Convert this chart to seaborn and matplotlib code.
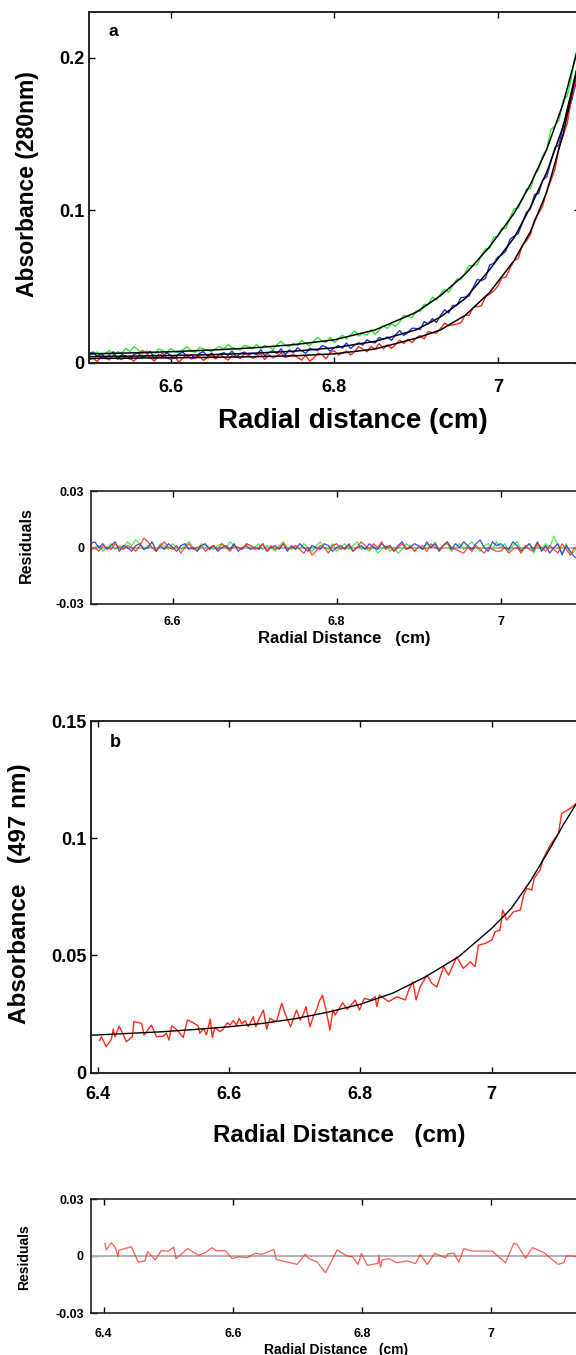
import matplotlib
matplotlib.use("Agg")
import matplotlib.pyplot as plt
import seaborn as sns
import numpy as np
from matplotlib.ticker import FuncFormatter

# ---------------- panel a : absorbance at 280 nm, three runs ----------------
radius_a = [
    6.500, 6.505, 6.510, 6.515, 6.520, 6.525, 6.530, 6.535, 6.540, 6.545,
    6.550, 6.555, 6.560, 6.565, 6.570, 6.575, 6.580, 6.585, 6.590, 6.595,
    6.600, 6.605, 6.610, 6.615, 6.620, 6.625, 6.630, 6.635, 6.640, 6.645,
    6.650, 6.655, 6.660, 6.665, 6.670, 6.675, 6.680, 6.685, 6.690, 6.695,
    6.700, 6.705, 6.710, 6.715, 6.720, 6.725, 6.730, 6.735, 6.740, 6.745,
    6.750, 6.755, 6.760, 6.765, 6.770, 6.775, 6.780, 6.785, 6.790, 6.795,
    6.800, 6.805, 6.810, 6.815, 6.820, 6.825, 6.830, 6.835, 6.840, 6.845,
    6.850, 6.855, 6.860, 6.865, 6.870, 6.875, 6.880, 6.885, 6.890, 6.895,
    6.900, 6.905, 6.910, 6.915, 6.920, 6.925, 6.930, 6.935, 6.940, 6.945,
    6.950, 6.955, 6.960, 6.965, 6.970, 6.975, 6.980, 6.985, 6.990, 6.995,
    7.000, 7.005, 7.010, 7.015, 7.020, 7.025, 7.030, 7.035, 7.040, 7.045,
    7.050, 7.055, 7.060, 7.065, 7.070, 7.075, 7.080, 7.085, 7.090, 7.095,
    7.100]

abs_green = [
    .0048, .0059, .0070, .0040, .0061, .0081, .0052, .0072, .0063, .0093,
    .0074, .0105, .0086, .0056, .0077, .0068, .0049, .0090, .0080, .0061,
    .0092, .0073, .0064, .0085, .0106, .0077, .0068, .0099, .0091, .0082,
    .0073, .0094, .0105, .0087, .0118, .0100, .0091, .0083, .0114, .0106,
    .0097, .0119, .0091, .0113, .0105, .0087, .0119, .0141, .0113, .0105,
    .0128, .0111, .0144, .0127, .0110, .0143, .0166, .0140, .0133, .0167,
    .0130, .0155, .0180, .0156, .0182, .0208, .0175, .0192, .0180, .0217,
    .0185, .0214, .0244, .0225, .0255, .0237, .0268, .0310, .0303, .0296,
    .0340, .0336, .0383, .0381, .0430, .0410, .0450, .0481, .0462, .0505,
    .0549, .0544, .0590, .0637, .0635, .0644, .0704, .0746, .0750, .0823,
    .0827, .0883, .0880, .0949, .1010, .1014, .1071, .1139, .1140, .1234,
    .1270, .1358, .1400, .1530, .1553, .1590, .1720, .1750, .1870, .2020,
    .2080]

abs_blue = [
    .0060, .0070, .0041, .0061, .0031, .0052, .0072, .0022, .0053, .0043,
    .0023, .0054, .0064, .0035, .0045, .0075, .0026, .0056, .0037, .0067,
    .0047, .0028, .0058, .0069, .0040, .0050, .0031, .0061, .0072, .0042,
    .0063, .0034, .0055, .0066, .0047, .0077, .0038, .0059, .0070, .0051,
    .0062, .0053, .0084, .0046, .0067, .0078, .0060, .0091, .0052, .0084,
    .0065, .0097, .0079, .0062, .0094, .0086, .0079, .0111, .0103, .0076,
    .0098, .0112, .0095, .0129, .0093, .0117, .0131, .0116, .0150, .0135,
    .0130, .0166, .0153, .0169, .0146, .0184, .0211, .0179, .0197, .0226,
    .0225, .0217, .0270, .0254, .0289, .0264, .0310, .0347, .0326, .0375,
    .0376, .0427, .0430, .0437, .0495, .0546, .0538, .0553, .0640, .0651,
    .0693, .0707, .0733, .0810, .0830, .0846, .0914, .0986, .1010, .1103,
    .1109, .1198, .1220, .1320, .1410, .1430, .1560, .1630, .1710, .1820,
    .1940]

abs_red = [
    .0018, .0028, .0008, .0039, .0029, .0019, .0049, .0029, .0020, .0040,
    .0030, .0010, .0040, .0081, .0061, .0031, .0011, .0041, .0062, .0032,
    .0022, .0042, .0003, .0033, .0053, .0024, .0034, .0044, .0015, .0035,
    .0045, .0025, .0056, .0036, .0017, .0047, .0037, .0028, .0058, .0049,
    .0029, .0040, .0060, .0021, .0051, .0032, .0043, .0063, .0034, .0044,
    .0055, .0035, .0017, .0048, .0010, .0031, .0062, .0054, .0025, .0067,
    .0078, .0051, .0064, .0077, .0050, .0073, .0106, .0089, .0072, .0106,
    .0090, .0125, .0091, .0117, .0093, .0120, .0147, .0125, .0153, .0131,
    .0160, .0178, .0156, .0205, .0195, .0195, .0225, .0259, .0243, .0248,
    .0254, .0262, .0310, .0311, .0364, .0368, .0373, .0431, .0450, .0470,
    .0502, .0556, .0562, .0620, .0670, .0683, .0769, .0798, .0840, .0939,
    .0981, .1028, .1130, .1195, .1267, .1415, .1490, .1570, .1730, .1840,
    .1970]

# residuals of panel a, in units of 0.001 absorbance
resid_green = [
    -1, 0, 1, -2, 0, 2, -1, 1, 0, 3,
    1, 4, 2, -1, 1, 0, -2, 2, 1, -1,
    2, 0, -1, 1, 3, 0, -1, 2, 1, 0,
    -1, 1, 2, 0, 3, 1, 0, -1, 2, 1,
    0, 2, -1, 1, 0, -2, 1, 3, 0, -1,
    1, -1, 2, 0, -2, 1, 3, 0, -1, 2,
    -2, 0, 2, -1, 1, 3, -1, 0, -2, 1,
    -3, -1, 1, -2, 0, -3, -1, 2, 0, -2,
    1, -1, 2, 0, 3, -1, 1, 2, -2, 0,
    2, -1, 1, 3, 0, -2, 1, 2, -1, 3,
    0, 2, -2, 1, 3, -1, 0, 2, -3, 1,
    -1, 2, 0, 6, 1, -3, 2, -4, -2, 3,
    -2]

resid_blue = [
    2, 3, 0, 2, -1, 1, 3, -2, 1, 0,
    -2, 1, 2, -1, 0, 3, -2, 1, -1, 2,
    0, -2, 1, 2, -1, 0, -2, 1, 2, -1,
    1, -2, 0, 1, -1, 2, -2, 0, 1, -1,
    0, -1, 2, -2, 0, 1, -1, 2, -2, 1,
    -1, 2, 0, -2, 1, 0, -1, 2, 1, -2,
    0, 1, -1, 2, -2, 0, 1, -1, 2, 0,
    -1, 2, 0, 1, -2, 1, 3, -1, 0, 2,
    1, -1, 3, 0, 2, -2, 1, 3, -1, 2,
    0, 3, 1, -1, 2, 4, 0, -2, 3, 1,
    2, 0, -1, 3, 1, -2, 0, 2, -1, 3,
    -2, 1, -3, 0, 2, -4, 1, -2, -5, -6,
    -6]

resid_red = [
    -1, 0, -2, 1, 0, -1, 2, 0, -1, 1,
    0, -2, 1, 5, 3, 0, -2, 1, 3, 0,
    -1, 1, -3, 0, 2, -1, 0, 1, -2, 0,
    1, -1, 2, 0, -2, 1, 0, -1, 2, 1,
    -1, 0, 2, -2, 1, -1, 0, 2, -1, 0,
    1, -1, -3, 0, -4, -2, 1, 0, -3, 1,
    2, -1, 0, 1, -2, 0, 3, 1, -1, 2,
    0, 3, -1, 1, -2, 0, 2, -1, 1, -2,
    0, 1, -2, 2, 0, -1, 1, 3, 0, -1,
    -2, -3, 0, -2, 1, -1, -3, 0, -1, -2,
    -2, 0, -3, -1, 0, -3, 1, -1, -2, 2,
    0, -2, 1, -1, -3, 2, -1, -4, 0, -2,
    -3]

# fitted curves of panel a
fit_radius_a = [6.50, 6.55, 6.60, 6.65, 6.70, 6.75, 6.80, 6.85, 6.90,
                6.93, 6.96, 6.99, 7.02, 7.04, 7.06, 7.08, 7.10]
fit_green = [.0058, .0064, .0072, .0083, .0097, .0118, .0150, .0215, .0330,
             .0440, .0580, .0760, .0980, .1170, .1400, .1700, .2100]
fit_blue = [.0040, .0043, .0047, .0053, .0062, .0075, .0098, .0140, .0215,
            .0300, .0420, .0610, .0820, .1020, .1250, .1550, .2000]
fit_red = [.0028, .0030, .0032, .0035, .0039, .0045, .0058, .0090, .0160,
           .0215, .0310, .0460, .0670, .0860, .1120, .1500, .2000]

# ---------------- panel b : absorbance at 497 nm ----------------
radius_b = [
    6.4015, 6.405, 6.412, 6.420, 6.423, 6.4255, 6.432, 6.443, 6.452, 6.4545,
    6.466, 6.470, 6.481, 6.489, 6.499, 6.504, 6.508, 6.512, 6.5205, 6.5297,
    6.536, 6.545, 6.5525, 6.555, 6.561, 6.565, 6.571, 6.574, 6.578, 6.5855,
    6.5905, 6.597, 6.601, 6.606, 6.611, 6.615, 6.619, 6.624, 6.629, 6.6365,
    6.6405, 6.644, 6.652, 6.657, 6.662, 6.668, 6.672, 6.680, 6.685, 6.688,
    6.6935, 6.6975, 6.7025, 6.708, 6.7125, 6.717, 6.723, 6.728, 6.733, 6.737,
    6.742, 6.747, 6.7535,
    6.758, 6.7615, 6.765, 6.773, 6.780, 6.792, 6.7985, 6.806, 6.815, 6.8225,
    6.825, 6.829, 6.843, 6.856, 6.8685, 6.8735, 6.880, 6.885, 6.891, 6.9015,
    6.909, 6.9165, 6.927, 6.9345, 6.947, 6.957, 6.9675, 6.975, 6.980, 6.990,
    7.0005, 7.0055, 7.013, 7.017, 7.023, 7.0335, 7.044, 7.049, 7.054, 7.0615,
    7.065, 7.074, 7.079, 7.0895, 7.102, 7.107, 7.120, 7.129]

abs_b = [
    .0136, .0153, .0111, .0142, .0186, .0153, .0199, .0132, .0153, .0218,
    .0211, .0161, .0203, .0153, .0156, .0168, .0139, .0200, .0182, .0150,
    .0225, .0213, .0199, .0168, .0189, .0161, .0229, .0150, .0193, .0175,
    .0185, .0213, .0203, .0222, .0203, .0232, .0208, .0222, .0196, .0239,
    .0196, .0222, .0267, .0185, .0232, .0222, .0218, .0296, .0253, .0232,
    .0196, .0228, .0267, .0225, .0246, .0282, .0196, .0239, .0267, .0303,
    .0331, .0275, .0182,
    .0267, .0246, .0263, .0298, .0270, .0310, .0267, .0317, .0310, .0324,
    .0282, .0331, .0303, .0324, .0310, .0352, .0388, .0310, .0366, .0416,
    .0381, .0366, .0452, .0416, .0494, .0445, .0473, .0452, .0544, .0551,
    .0566, .0601, .0608, .0694, .0651, .0686, .0694, .0758, .0786, .0779,
    .0829, .0864, .0914, .0971, .1020, .1106, .1127, .1148]

fit_radius_b = [6.39, 6.45, 6.50, 6.55, 6.60, 6.65, 6.70, 6.75, 6.80, 6.85,
                6.90, 6.95, 7.00, 7.03, 7.06, 7.09, 7.11, 7.13, 7.14]
fit_b = [.0160, .0168, .0175, .0185, .0196, .0210, .0230, .0258, .0292, .0340,
         .0410, .0495, .0615, .0700, .0820, .0960, .1060, .1150, .1200]

resid_radius_b = [
    6.402, 6.404, 6.412, 6.418, 6.4225, 6.4235, 6.443, 6.4535, 6.464, 6.468,
    6.480, 6.489, 6.500, 6.5085, 6.512, 6.530, 6.547, 6.5575, 6.568, 6.574,
    6.5885, 6.599, 6.609, 6.622, 6.635, 6.645, 6.6635, 6.667, 6.6995, 6.712,
    6.7175, 6.7305, 6.7435, 6.7615, 6.777, 6.785, 6.794, 6.799, 6.808, 6.825,
    6.826, 6.8285, 6.831, 6.8415, 6.854, 6.870, 6.8825, 6.890, 6.901, 6.9125,
    6.929, 6.933, 6.942, 6.950, 6.9575, 6.9705, 7.0015, 7.022, 7.035, 7.040,
    7.053, 7.0635, 7.0815, 7.094, 7.1035, 7.1125, 7.116, 7.125, 7.131]
# residuals of panel b, in units of 0.001 absorbance
resid_b = [
    6.7, 3.2, 7.0, 4.4, -0.4, 3.0, 4.9, -3.2, -2.6, 2.3,
    -2.1, 2.8, 2.5, 4.7, -1.4, 3.9, 0.4, 1.8, 4.4, 2.8,
    2.8, -1.4, -0.4, -0.9, 1.4, 0.9, 3.5, -1.8, -4.4, 0.9,
    -1.4, -3.2, -8.8, 3.2, 0.0, -0.4, -4.4, 1.4, -4.9, -3.9,
    0.4, -6.1, -2.1, -1.4, -3.5, -2.6, -4.0, 0.7, -4.4, 1.4,
    -0.9, 1.2, 1.4, -3.2, 3.9, 2.6, 2.6, -3.5, 6.7, 6.1,
    -1.2, 4.4, 1.8, -1.8, -4.4, -3.5, 0.0, 0.0, -0.3]

GREEN, BLUE, RED = "#2ee62e", "#1f2fd6", "#ff2a1a"

sns.set_style("ticks")
plt.rcParams["font.family"] = ["Liberation Sans", "DejaVu Sans"]
plt.rcParams["font.weight"] = "bold"
plt.rcParams["text.color"] = "black"

W, H = 576, 1355
fig = plt.figure(figsize=(W / 100, H / 100), dpi=100)


def px_axes(left, top, right, bottom):
    return fig.add_axes([left / W, 1 - bottom / H, (right - left) / W, (bottom - top) / H])


def style(ax, tick_size, xpad, ypad, spine_w=1.4):
    fmt = FuncFormatter(lambda v, p: "%g" % round(v, 4))
    ax.xaxis.set_major_formatter(fmt)
    ax.yaxis.set_major_formatter(fmt)
    ax.tick_params(direction="in", top=True, right=True, length=4, width=1,
                   labelsize=tick_size, colors="black")
    ax.tick_params(axis="x", pad=xpad)
    ax.tick_params(axis="y", pad=ypad)
    for lab in ax.get_xticklabels() + ax.get_yticklabels():
        lab.set_fontweight("bold")
    for s in ax.spines.values():
        s.set_linewidth(spine_w)
        s.set_color("#222222")
    ax.set_xlabel("")
    ax.set_ylabel("")


# ---- panel a
ax1 = px_axes(89, 12, 579.5, 362.7)
for y, c in [(abs_green, GREEN), (abs_blue, BLUE), (abs_red, RED)]:
    sns.lineplot(x=radius_a, y=y, ax=ax1, color=c, lw=1.0, sort=False, estimator=None)
for f in [fit_green, fit_blue, fit_red]:
    sns.lineplot(x=fit_radius_a, y=f, ax=ax1, color="black", lw=1.1, sort=False, estimator=None)
ax1.set_xlim(6.5, 7.1)
ax1.set_ylim(0, 0.23)
ax1.set_xticks([6.6, 6.8, 7.0])
ax1.set_yticks([0, 0.1, 0.2])
style(ax1, 13, 11.5, 3)
ax1.text(0.05, 0.945, "a", transform=ax1.transAxes, fontsize=12.5, fontweight="bold",
         ha="center", va="center")

# ---- residuals a
ax2 = px_axes(90.6, 491, 582.6, 604)
ax2.axhline(0, color="#b3b3b3", lw=1.5, zorder=1)
for r, c in [(resid_green, GREEN), (resid_blue, BLUE), (resid_red, RED)]:
    sns.lineplot(x=radius_a, y=np.array(r) * 1e-3, ax=ax2, color=c, lw=0.9, alpha=0.85,
                 sort=False, estimator=None)
ax2.set_xlim(6.5, 7.1)
ax2.set_ylim(-0.03, 0.03)
ax2.set_xticks([6.6, 6.8, 7.0])
ax2.set_yticks([-0.03, 0, 0.03])
style(ax2, 9, 8.5, 4.5, 1.2)

# ---- panel b
ax3 = px_axes(91, 721, 583.3, 1072.7)
sns.lineplot(x=radius_b, y=abs_b, ax=ax3, color=RED, lw=1.0, sort=False, estimator=None)
sns.lineplot(x=fit_radius_b, y=fit_b, ax=ax3, color="black", lw=1.0, sort=False, estimator=None)
ax3.set_xlim(6.389, 7.14)
ax3.set_ylim(0, 0.15)
ax3.set_xticks([6.4, 6.6, 6.8, 7.0])
ax3.set_yticks([0, 0.05, 0.1, 0.15])
style(ax3, 13, 9.5, 3.5)
ax3.text(0.05, 0.94, "b", transform=ax3.transAxes, fontsize=13, fontweight="bold",
         ha="center", va="center")

# ---- residuals b
ax4 = px_axes(90.7, 1199, 581.7, 1313)
ax4.axhline(0, color="#b3b3b3", lw=1.5, zorder=1)
sns.lineplot(x=resid_radius_b, y=np.array(resid_b) * 1e-3, ax=ax4, color=RED, lw=0.9,
             alpha=0.75, sort=False, estimator=None)
ax4.set_xlim(6.38, 7.14)
ax4.set_ylim(-0.03, 0.03)
ax4.set_xticks([6.4, 6.6, 6.8, 7.0])
ax4.set_yticks([-0.03, 0, 0.03])
style(ax4, 9, 10.5, 5, 1.2)

# ---- axis titles
def label(x, y, s, size, rot=0):
    fig.text(x / W, 1 - y / H, s, fontsize=size, fontweight="bold", rotation=rot,
             ha="center", va="center", color="black")


label(27.5, 184, "Absorbance (280nm)", 16.5, 90)
label(353, 421, "Radial distance (cm)", 20)
label(26.6, 545, "Residuals", 11.5, 90)
label(344, 638, "Radial Distance   (cm)", 12)
label(19.1, 894, "Absorbance   (497 nm)", 17.5, 90)
label(339.6, 1135.7, "Radial Distance   (cm)", 17.5)
label(23.9, 1257.5, "Residuals", 10, 90)
label(336, 1350, "Radial Distance   (cm)", 10)

fig.savefig("out.png", dpi=100)
